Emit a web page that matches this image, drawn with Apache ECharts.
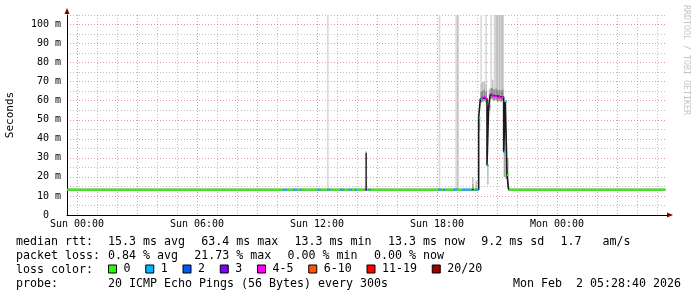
<!DOCTYPE html>
<html><head><meta charset="utf-8">
<script src="https://cdn.jsdelivr.net/npm/echarts@6/dist/echarts.min.js"></script>
<style>html,body{margin:0;padding:0;background:#fff}#c{width:697px;height:297px}</style>
</head><body><div id="c"></div>
<script>
// ---------------- data ----------------
// median rtt (ms) change points, held until the next point; loss = pings lost of 20
const medTimes = ['Sat 23:30','Sun 10:20','Sun 10:30','Sun 10:50','Sun 11:00','Sun 11:10','Sun 11:15','Sun 12:00','Sun 12:10','Sun 12:30','Sun 12:40','Sun 13:10','Sun 13:20','Sun 13:35','Sun 13:45','Sun 13:55','Sun 14:00','Sun 14:25','Sun 14:30','Sun 14:35','Sun 14:40','Sun 18:05','Sun 18:15','Sun 18:20','Sun 18:25','Sun 18:50','Sun 19:00','Sun 19:15','Sun 19:45','Sun 19:50','Sun 19:55','Sun 20:05','Sun 20:10','Sun 20:15','Sun 20:20','Sun 20:25','Sun 20:30','Sun 20:35','Sun 20:40','Sun 20:45','Sun 20:50','Sun 20:55','Sun 21:00','Sun 21:05','Sun 21:10','Sun 21:15','Sun 21:20','Sun 21:25','Sun 21:30','Sun 21:35','Mon 05:25'];
const medValues = [13.3,13.3,13.3,13.3,13.3,13.3,13.3,13.3,13.3,13.3,13.3,13.3,13.3,13.3,13.3,13.3,13.3,13.3,13.3,13.3,13.3,13.3,13.3,13.3,13.3,13.3,13.3,13.3,14.3,13.3,13.3,51.0,61.0,61.5,62.0,61.0,26.0,57.0,63.4,62.6,62.1,62.6,61.6,62.1,61.6,62.0,33.0,59.5,21.0,13.3,13.3];
const medLoss   = [0,1,0,1,0,1,0,1,0,1,0,1,0,1,0,1,0,3,0,1,0,1,0,1,0,1,0,1,0,0,1,1,1,4,4,4,1,3,4,4,4,4,4,4,4,4,1,1,0,0,0];

// smoke (ping spread) columns: start, length in minutes, low/high (ms), density level 1..5
const smokeTimes   = ['Sun 12:30','Sun 14:25','Sun 14:25','Sun 18:05','Sun 18:55','Sun 19:00','Sun 19:45','Sun 19:45','Sun 19:55','Sun 20:05','Sun 20:10','Sun 20:10','Sun 20:10','Sun 20:15','Sun 20:15','Sun 20:20','Sun 20:20','Sun 20:25','Sun 20:25','Sun 20:25','Sun 20:30','Sun 20:35','Sun 20:35','Sun 20:40','Sun 20:40','Sun 20:45','Sun 20:45','Sun 20:50','Sun 20:50','Sun 20:55','Sun 20:55','Sun 21:00','Sun 21:00','Sun 21:05','Sun 21:05','Sun 21:10','Sun 21:10','Sun 21:15','Sun 21:15','Sun 21:20','Sun 21:25','Sun 21:25','Sun 21:30'];
const smokeMinutes = [5,5,5,5,5,5,5,5,5,5,5,5,5,5,5,5,5,5,5,5,5,5,5,5,5,5,5,5,5,5,5,5,5,5,5,5,5,5,5,5,5,5,5];
const smokeLow     = [13.3,13.3,32.6,13.3,13.3,13.3,13.3,16.5,13.3,44,59,65,69,59.5,65.5,60,66,59,65,69,16,55,60,61,67,60.5,66.5,60,66,60.5,66.5,59.5,65.5,60,66,59.5,65.5,60,66,20,19,30,14];
const smokeHigh    = [105,32.6,33.3,105,105,105,16.5,20,18,51,65,69,105,65.5,70,66,70,65,69,105,26,60,66,67,105,66.5,71,66,105,66.5,105,65.5,105,66,105,65.5,105,66,105,45,30,45,30];
const smokeLevel   = [1,5,3,1,1,2,3,2,2,2,4,2,1,4,2,4,2,4,2,1,2,3,2,4,1,4,2,4,1,4,2,4,2,4,2,4,2,4,2,3,3,2,2];

// loss buckets (legend)
const lossNames = ['0','1','2','3','4-5','6-10','11-19','20/20'];
const lossUpper = [0,1,2,3,5,10,19,20];

// axis ticks
const xTickHours  = [0,6,12,18,24];
const xTickLabels = ['Sun 00:00','Sun 06:00','Sun 12:00','Sun 18:00','Mon 00:00'];
const yTickValues = [0,10,20,30,40,50,60,70,80,90,100];
const yTickLabels = ['0\u00a0\u00a0','10 m','20 m','30 m','40 m','50 m','60 m','70 m','80 m','90 m','100 m'];

// legend texts
const statsRtt  = ['15.3 ms avg','63.4 ms max','13.3 ms min','13.3 ms now','9.2 ms sd','1.7   am/s'];
const statsLoss = ['0.84 % avg','21.73 % max','0.00 % min','0.00 % now'];
const probeText = '20 ICMP Echo Pings (56 Bytes) every 300s';
const dateText  = 'Mon Feb  2 05:28:40 2026';

// ---------------- styles ----------------
const MONO = '"DejaVu Sans Mono", monospace';
const lossColors = ['#26ff00','#00b8ff','#0059ff','#7e00ff','#ff00ff','#ff5500','#ff0000','#a10000'];
const smokeShades = {1:'#dadada',2:'#c2c2c2',3:'#a6a6a6',4:'#8c8c8c',5:'#3a3a3a'};
const MAJOR = 'rgba(210,50,50,0.5)';
const MINOR = 'rgba(140,140,140,0.55)';
const NONE = 'rgba(0,0,0,0)';
const CHAR = 7.0;      // monospace advance of legend font
const FS = 11.63;

// ---------------- build ----------------
function parseT(s){ const p=s.split(' '); const hm=p[1].split(':').map(Number); return ({Sat:-24,Sun:0,Mon:24})[p[0]] + hm[0] + hm[1]/60; }
const medPts = medTimes.map((t,i)=>[parseT(t), medValues[i]]);
function bucketOf(l){ for (let k=0;k<lossUpper.length;k++) if (l<=lossUpper[k]) return k; return lossUpper.length-1; }

const series = [];
series.push({
  type:'custom', name:'smoke', z:1, clip:true, silent:true,
  encode:{x:[0,1], y:[2,3]},
  data: smokeTimes.map((t,i)=>{ const t0=parseT(t); return [t0, t0+smokeMinutes[i]/60, smokeLow[i], smokeHigh[i], smokeLevel[i]]; }),
  renderItem(params, api){
    const a = api.coord([api.value(0), api.value(2)]);
    const b = api.coord([api.value(1), api.value(3)]);
    return {type:'rect', shape:{x:a[0], y:b[1], width:b[0]-a[0], height:a[1]-b[1]}, style:{fill: smokeShades[api.value(4)]}};
  }
});
series.push({type:'line', name:'median', z:2, step:'end', showSymbol:false, silent:true, data: medPts,
  lineStyle:{color:'#1a1a1a', width:1.6}, itemStyle:{color:'#1a1a1a'}});
// legend-carrying (empty) series per loss bucket
lossNames.forEach((nm,b)=>{
  series.push({type:'line', name:nm, z:3, showSymbol:false, silent:true, data:[],
    lineStyle:{color:lossColors[b], width:2}, itemStyle:{color:lossColors[b]}});
});
// each held median sample coloured by its loss bucket (horizontal pieces only)
for (let i=0;i<medPts.length-1;i++){
  const b = bucketOf(medLoss[i]);
  series.push({type:'line', name:lossNames[b], z:3, showSymbol:false, silent:true,
    data:[medPts[i], [medPts[i+1][0], medPts[i][1]]],
    lineStyle:{color:lossColors[b], width:2}, itemStyle:{color:lossColors[b]}});
}

const legends = [];
{ let lx = 108;
  lossNames.forEach(nm=>{
    legends.push({data:[nm], left:lx, top:263, itemWidth:8, itemHeight:8, icon:'rect', selectedMode:false, padding:0,
      itemStyle:{borderColor:'#000', borderWidth:1},
      textStyle:{fontFamily:MONO, fontSize:FS, color:'#000', padding:[3,0,0,2]}});
    lx += 8 + 7 + CHAR*nm.length + 15.25;
  });
}

const ROWS = [242, 256, 269.5, 283.5];
function txt(x,y,s,align){ return {type:'text', x:x, y:y, silent:true, style:{text:s, fontFamily:MONO, fontSize:FS, fill:'#000', align:align||'left', verticalAlign:'middle'}}; }
const graphics = [];
graphics.push(txt(16, ROWS[0], 'median rtt:'));
{ let x = 108; statsRtt.forEach(s=>{ graphics.push(txt(x, ROWS[0], s)); x += CHAR*(s.length+2) + 2.3; }); }
graphics.push(txt(16, ROWS[1], 'packet loss:'));
{ let x = 108; statsLoss.forEach(s=>{ graphics.push(txt(x, ROWS[1], s)); x += CHAR*(s.length+2) + 2.3; }); }
graphics.push(txt(16, ROWS[2], 'loss color:'));
graphics.push(txt(16, ROWS[3], 'probe:'));
graphics.push(txt(108, ROWS[3], probeText));
graphics.push(txt(681, ROWS[3], dateText, 'right'));
graphics.push({type:'text', x:686, y:5, rotation:-Math.PI/2, silent:true,
  style:{text:'RRDTOOL / TOBI OETIKER', fontFamily:MONO, fontSize:8.3, fill:'#c4c4c4', align:'left', verticalAlign:'middle'}});

const xBase = {type:'value', min:-0.5, max:29.5, interval:0.5, gridIndex:0, position:'bottom'};
const yBase = {type:'value', min:0, max:105, interval:5, gridIndex:0, position:'left'};
const option = {
  animation:false,
  backgroundColor:'#fff',
  grid:{left:67, top:15, width:600, height:200, containLabel:false, outerBoundsMode:'none'},
  legend: legends,
  xAxis:[
    Object.assign({}, xBase, {
      axisLine:{show:true, onZero:false, lineStyle:{color:'#000', width:1}},
      axisTick:{show:false},
      axisLabel:{fontFamily:MONO, fontSize:10, color:'#000', margin:4,
        formatter:v=>{ const k = xTickHours.indexOf(v); return k>=0 ? xTickLabels[k] : ''; }},
      splitLine:{show:true, lineStyle:{color:[NONE,MAJOR,NONE,MINOR,NONE,MINOR], type:[1,2], width:1}}
    }),
    Object.assign({}, xBase, {
      axisLine:{show:true, onZero:false, symbol:['none','triangle'], symbolSize:[5,6], symbolOffset:[0,3], lineStyle:{color:'#800000', width:0}},
      axisTick:{show:false}, axisLabel:{show:false}, splitLine:{show:false}
    })
  ],
  yAxis:[
    Object.assign({}, yBase, {
      axisLine:{show:true, onZero:false, lineStyle:{color:'#000', width:1}},
      axisTick:{show:false},
      axisLabel:{fontFamily:MONO, fontSize:10, color:'#000', margin:6,
        formatter:v=>{ const k = yTickValues.indexOf(v); return k>=0 ? yTickLabels[k] : ''; }},
      splitLine:{show:true, lineStyle:{color:[MAJOR,MINOR], type:[1,2], width:1}},
      name:'Seconds', nameLocation:'middle', nameRotate:90, nameGap:51,
      nameTextStyle:{fontFamily:MONO, fontSize:11, color:'#000'}
    }),
    Object.assign({}, yBase, {
      axisLine:{show:true, onZero:false, symbol:['none','triangle'], symbolSize:[5,6], symbolOffset:[0,4], lineStyle:{color:'#800000', width:0}},
      axisTick:{show:false}, axisLabel:{show:false}, splitLine:{show:false}
    })
  ],
  graphic: graphics,
  series: series
};
const chart = echarts.init(document.getElementById('c'), null, {renderer:'canvas', width:697, height:297});
chart.setOption(option);
</script></body></html>
